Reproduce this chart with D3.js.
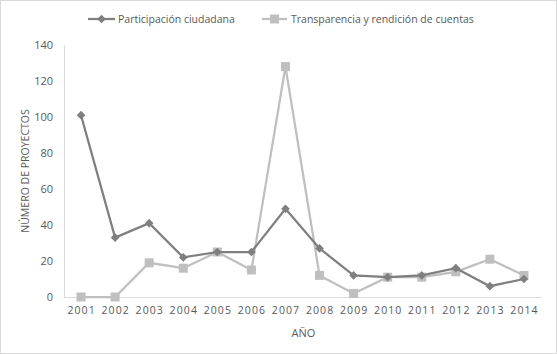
<!DOCTYPE html>
<html>
<head>
<meta charset="utf-8">
<script src="https://cdn.jsdelivr.net/npm/d3@7"></script>
<style>
  body { margin: 0; background: #fff; }
  text { font-family: "Open Sans", "Liberation Sans", sans-serif; fill: #595959; }
</style>
</head>
<body>
<script>
var years = ["2001","2002","2003","2004","2005","2006","2007","2008","2009","2010","2011","2012","2013","2014"];
var participacion = [101, 33, 41, 22, 25, 25, 49, 27, 12, 11, 12, 16, 6, 10];
var transparencia = [0, 0, 19, 16, 25, 15, 128, 12, 2, 11, 11, 14, 21, 12];
var yTicks = [0, 20, 40, 60, 80, 100, 120, 140];
var seriesNames = ["Participación ciudadana", "Transparencia y rendición de cuentas"];

var w = 557, h = 354;
var padL = 64, padR = 541, padT = 45, padB = 297;

var svg = d3.select("body").append("svg")
    .attr("width", w)
    .attr("height", h);

svg.append("rect")
    .attr("x", 0.5).attr("y", 0.5)
    .attr("width", w - 1).attr("height", h - 1)
    .attr("fill", "#fff")
    .attr("stroke", "#d9d9d9");

var x = d3.scaleBand().domain(years).range([padL, padR]);
var y = d3.scaleLinear().domain([0, 140]).range([padB, padT]);

// y axis
var yAxis = d3.axisLeft(y).tickValues(yTicks).tickSize(0).tickPadding(11);
var gy = svg.append("g")
    .attr("transform", "translate(" + padL + ",0)")
    .call(yAxis);
gy.select(".domain").attr("stroke", "#d9d9d9");
gy.selectAll("text").style("font-size", "11px").style("font-family", null).attr("fill", "#595959");

// x axis
var xAxis = d3.axisBottom(x).tickSize(0).tickPadding(10);
var gx = svg.append("g")
    .attr("transform", "translate(0," + padB + ")")
    .call(xAxis);
gx.select(".domain").attr("stroke", "#d9d9d9");
gx.selectAll("text")
    .style("font-size", "10.5px")
    .style("letter-spacing", "1.1px")
    .attr("dx", "0.55px")
    .attr("fill", "#595959");
svg.selectAll(".tick text").attr("font-family", null).attr("font-size", null);

// axis titles
svg.append("text")
    .attr("x", (padL + padR) / 2 + 1)
    .attr("y", 337)
    .attr("text-anchor", "middle")
    .style("font-size", "11px")
    .text("AÑO");

svg.append("text")
    .attr("transform", "translate(29," + ((padT + padB) / 2) + ") rotate(-90)")
    .attr("text-anchor", "middle")
    .style("font-size", "10.5px")
    .text("NÚMERO DE PROYECTOS");

var line = d3.line()
    .x(function(d, i) { return x(years[i]) + x.bandwidth() / 2; })
    .y(function(d) { return y(d); });

// transparencia (drawn first, behind)
svg.append("path")
    .datum(transparencia)
    .attr("d", line)
    .attr("fill", "none")
    .attr("stroke", "#bfbfbf")
    .attr("stroke-width", 2.25);

svg.append("g").selectAll("rect")
    .data(transparencia)
    .enter()
    .append("rect")
    .attr("x", function(d, i) { return x(years[i]) + x.bandwidth() / 2 - 4.5; })
    .attr("y", function(d) { return y(d) - 4.5; })
    .attr("width", 9)
    .attr("height", 9)
    .attr("fill", "#bfbfbf");

// participacion
svg.append("path")
    .datum(participacion)
    .attr("d", line)
    .attr("fill", "none")
    .attr("stroke", "#7f7f7f")
    .attr("stroke-width", 2.25);

var diamond = d3.symbol().type(d3.symbolDiamond2).size(48);
svg.append("g").selectAll("path")
    .data(participacion)
    .enter()
    .append("path")
    .attr("d", diamond)
    .attr("transform", function(d, i) {
        return "translate(" + (x(years[i]) + x.bandwidth() / 2) + "," + y(d) + ")";
    })
    .attr("fill", "#7f7f7f");

// legend
var lg = svg.append("g");
lg.append("line").attr("x1", 88).attr("x2", 115).attr("y1", 19).attr("y2", 19)
    .attr("stroke", "#7f7f7f").attr("stroke-width", 2.25);
lg.append("path").attr("d", diamond).attr("transform", "translate(101.5,19)").attr("fill", "#7f7f7f");
lg.append("text").attr("x", 118).attr("y", 23).style("font-size", "10.5px").text(seriesNames[0]);

lg.append("line").attr("x1", 262).attr("x2", 287).attr("y1", 19).attr("y2", 19)
    .attr("stroke", "#bfbfbf").attr("stroke-width", 2.25);
lg.append("rect").attr("x", 270).attr("y", 14.5).attr("width", 9).attr("height", 9).attr("fill", "#bfbfbf");
lg.append("text").attr("x", 291).attr("y", 23).style("font-size", "10.5px").text(seriesNames[1]);
</script>
</body>
</html>
